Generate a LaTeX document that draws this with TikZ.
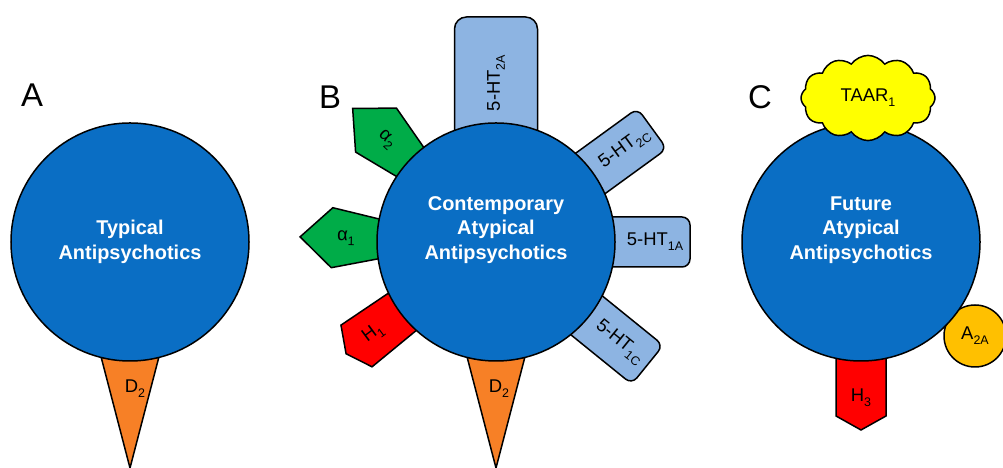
\documentclass[tikz,border=0pt]{standalone}
\usepackage{fontspec}
\setmainfont{Liberation Sans}
\usetikzlibrary{shapes.symbols, positioning}
\definecolor{drugblue}{RGB}{10,110,196}
\definecolor{htblue}{RGB}{141,180,226}
\definecolor{alphagreen}{RGB}{0,172,72}
\definecolor{histred}{RGB}{255,0,0}
\definecolor{dopaorange}{RGB}{247,128,38}
\definecolor{adenoamber}{RGB}{255,192,0}
\definecolor{taaryellow}{RGB}{255,255,0}
\newcommand{\rsub}[1]{\raisebox{-0.28em}{\fontsize{12.5}{12.5}\selectfont #1}}

\begin{document}
\begin{tikzpicture}[
    x=1bp, y=1bp,
    drug/.style={circle, draw, line width=1.5bp, fill=drugblue, minimum size=238bp, inner sep=0pt},
    drugtext/.style={align=center, text=white, font=\fontsize{20}{24.5}\selectfont\bfseries},
    panel/.style={font=\fontsize{33}{33}\selectfont, inner sep=0pt},
    rlabel/.style={font=\fontsize{18.5}{18.5}\selectfont, inner sep=0pt},
    htbox/.style={draw, line width=1.5bp, fill=htblue},
    recep/.style={draw, line width=1.5bp},
]
    \useasboundingbox (0,0) rectangle (1003,468);

    % A: typical
    \begin{scope}[shift={(130,226)}]
        \draw[recep, fill=dopaorange] (-104:119) -- (-76:119) -- (0,-226) -- cycle;
        \node[rlabel] (dtwoA) at (5,-147) {D\rsub{2}};
    \end{scope}
    \node[drug] (A) at (130,226) {};
    \node[drugtext] (Atext) at (130,226) {Typical\\Antipsychotics};
    \node[panel] (Alab) at (32,373) {A};

    % B: contemporary atypical
    \foreach \ang/\half/\far/\rad/\txt [count=\i] in {90/41.5/225/12/{5-HT\rsub{2A}}, 36/25/193/8/{5-HT\rsub{2C}}, 0/25/194/8/{5-HT\rsub{1A}}, -39/25/195/8/{5-HT\rsub{1C}}}
    {
        \begin{scope}[shift={(496,226)}, rotate=\ang]
            \draw[htbox, rounded corners=\rad] (80,-\half) -- (\far,-\half) -- (\far,\half) -- (80,\half) -- cycle;
            \node[rlabel, rotate=\ang] (ht\i) at (159,0) {\txt};
        \end{scope}
    }
    \foreach \ang/\txt [count=\i] in {178.5/{α\rsub{1}}, 137/{α\rsub{2}}}
    {
        \begin{scope}[shift={(496,226)}, rotate=\ang]
            \draw[recep, fill=alphagreen] (90,-14) -- (164,-30) -- (196,0) -- (164,30) -- (90,14) -- cycle;
            \node[rlabel, rotate=\ang-180] (alpha\i) at (150,0) {\txt};
        \end{scope}
    }
    \begin{scope}[shift={(496,226)}, rotate=216.7]
        \draw[recep, fill=histred] (90,-22) -- (174,-26) -- (187,0) -- (174,26) -- (90,22) -- cycle;
        \node[rlabel, rotate=36.7] (hone) at (153,0) {H\rsub{1}};
    \end{scope}
    \begin{scope}[shift={(496,226)}]
        \draw[recep, fill=dopaorange] (-104:119) -- (-76:119) -- (0,-226) -- cycle;
        \node[rlabel] (dtwoB) at (3,-147) {D\rsub{2}};
    \end{scope}
    \node[drug] (B) at (496,226) {};
    \node[drugtext] (Btext) at (496,238) {Contemporary\\Atypical\\Antipsychotics};
    \node[panel] (Blab) at (330,371) {B};

    % C: future atypical
    \node[circle, recep, fill=adenoamber, minimum size=62bp, inner sep=0pt, font=\fontsize{18.5}{18.5}\selectfont] (atwoa) at (975,132) {A\rsub{2A}};
    \begin{scope}[shift={(861,226)}, rotate=-90]
        \draw[recep, fill=histred] (90,-25) -- (174,-25) -- (188,0) -- (174,25) -- (90,25) -- cycle;
        \node[rlabel] (hthree) at (156,0) {H\rsub{3}};
    \end{scope}
    \node[drug] (C) at (861,226) {};
    \node[drugtext] (Ctext) at (861,238) {Future\\Atypical\\Antipsychotics};
    \node[cloud, cloud puffs=12, cloud puff arc=110, recep, fill=taaryellow, minimum width=134bp, minimum height=84bp, inner sep=0pt, font=\fontsize{18.5}{18.5}\selectfont] (taar) at (868,370) {TAAR\rsub{1}};
    \node[panel] (Clab) at (760,371) {C};
\end{tikzpicture}
\end{document}
